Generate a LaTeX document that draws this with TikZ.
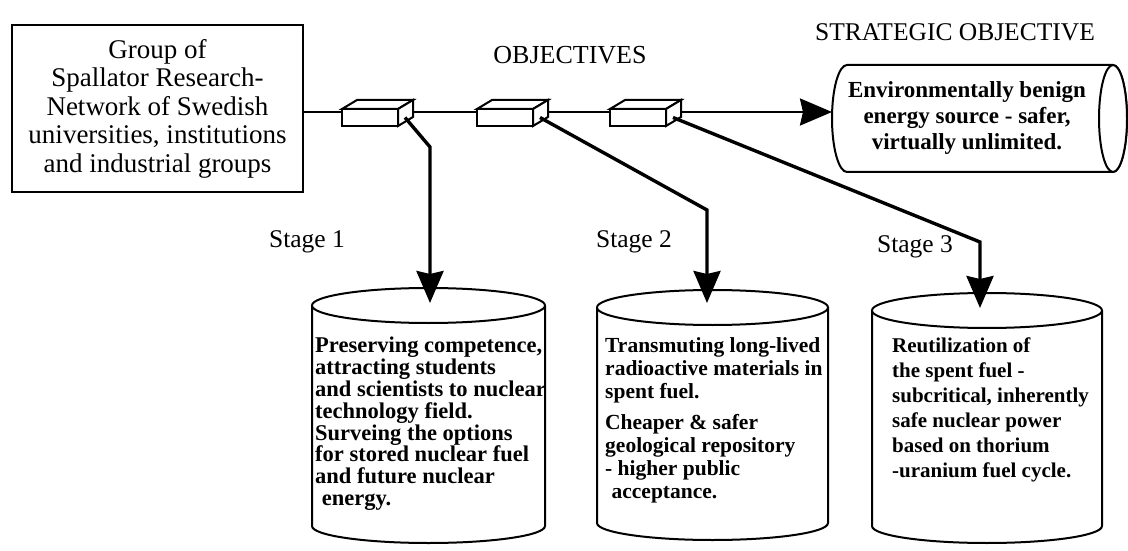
\documentclass[tikz,border=0pt]{standalone}
\usepackage{fontspec}
\setmainfont{Liberation Serif}
\usetikzlibrary{arrows.meta}
\tikzset{
  heading/.style={inner sep=0pt, font=\fontsize{26}{28}\selectfont},
  stagelabel/.style={inner sep=0pt, font=\fontsize{25.5}{28}\selectfont},
  drumtext/.style={inner sep=0pt, anchor=north west, align=left},
  prism/.style={draw, line width=2pt, fill=white, minimum width=56pt, minimum height=17pt, inner sep=0pt, outer sep=0pt},
  shell/.style={line width=2pt, fill=white},
  mainline/.style={line width=2.6pt, -{Stealth[length=32pt,width=27pt,inset=3pt]}},
  stagearrow/.style={line width=3.4pt, -{Stealth[length=32pt,width=27pt,inset=3pt]}}
}
\newcommand{\drumshape}[4]{%
  \draw[shell] (#1,#3-17.5) -- (#1,#4+17) arc[start angle=180, end angle=360, x radius={(#2-#1)/2}, y radius=17] -- (#2,#3-17.5);
  \draw[shell] ({(#1+#2)/2},#3-17.5) ellipse[x radius={(#2-#1)/2}, y radius=17.5];
}
\begin{document}
\begin{tikzpicture}[x=1pt, y=1pt]
\fill[white] (0,0) rectangle (1128,550);
\useasboundingbox (0,0) rectangle (1128,550);
\node[draw, line width=2.2pt, minimum width=291pt, minimum height=167pt, align=center, font=\fontsize{27}{28.5}\selectfont] (group) at (157.5,441.5) {Group of\\Spallator Research-\\Network of Swedish\\universities, institutions\\and industrial groups};
\node[heading] (objectives) at (570,495) {OBJECTIVES};
\node[heading, font=\fontsize{25.5}{28}\selectfont] (strategic) at (955,518) {STRATEGIC OBJECTIVE};
\draw[shell] (847,485) arc[start angle=90, end angle=270, x radius=15, y radius=53.5] -- (1113,378) arc[start angle=270, end angle=450, x radius=14, y radius=53.5] -- cycle;
\draw[shell] (1113,431.5) ellipse[x radius=14, y radius=53.5];
\node[align=center, inner sep=0pt, font=\bfseries\fontsize{23}{26}\selectfont] (goal) at (967,431.5) {Environmentally benign\\energy source - safer,\\virtually unlimited.};
\coordinate (goaltip) at (832,438);
\draw[mainline] (group.east |- goaltip) -- (goaltip);
\node[prism] (obj1) at (370,432.5) {};
\draw[shell] (obj1.north west) -- ++(15,9) -- ++(56,0) -- (obj1.north east) -- cycle;
\draw[shell] (obj1.north east) -- ++(15,9) -- ++(0,-17) -- (obj1.south east) -- cycle;
\node[prism] (obj2) at (505,432.5) {};
\draw[shell] (obj2.north west) -- ++(15,9) -- ++(56,0) -- (obj2.north east) -- cycle;
\draw[shell] (obj2.north east) -- ++(15,9) -- ++(0,-17) -- (obj2.south east) -- cycle;
\node[prism] (obj3) at (638,432.5) {};
\draw[shell] (obj3.north west) -- ++(15,9) -- ++(56,0) -- (obj3.north east) -- cycle;
\draw[shell] (obj3.north east) -- ++(15,9) -- ++(0,-17) -- (obj3.south east) -- cycle;
\drumshape{312}{545}{262}{7}
\drumshape{597}{828}{260}{10}
\drumshape{872}{1102}{257}{7}
\coordinate (drum1top) at (430,247);
\coordinate (drum2top) at (707,247);
\coordinate (drum3top) at (980,242);
\draw[stagearrow] ([xshift=7pt]obj1.east) -- (drum1top |- 0,403) -- (drum1top);
\draw[stagearrow] ([xshift=7pt]obj2.east) -- (drum2top |- 0,340) -- (drum2top);
\draw[stagearrow] ([xshift=7pt]obj3.east) -- (drum3top |- 0,308) -- (drum3top);
\node[stagelabel] (stg1) at (307,308) {Stage 1};
\node[stagelabel] (stg2) at (634,308) {Stage 2};
\node[stagelabel] (stg3) at (915,303) {Stage 3};
\node[drumtext, font=\bfseries\fontsize{22.5}{21.8}\selectfont] (task1) at (315,213) {Preserving competence,\\attracting students\\and scientists to nuclear\\technology field.\\Surveing the options\\for stored nuclear fuel\\and future nuclear\\\hspace*{0.3em}energy.};
\node[drumtext, font=\bfseries\fontsize{21.5}{23}\selectfont] (task2) at (605,213) {Transmuting long-lived\\radioactive materials in\\spent fuel.\\[8pt]Cheaper \& safer\\geological repository\\- higher public\\\hspace*{0.3em}acceptance.};
\node[drumtext, font=\bfseries\fontsize{21}{25}\selectfont] (task3) at (892,212) {Reutilization of\\the spent fuel -\\subcritical, inherently\\safe nuclear power\\based on thorium\\-uranium fuel cycle.};
\end{tikzpicture}
\end{document}
